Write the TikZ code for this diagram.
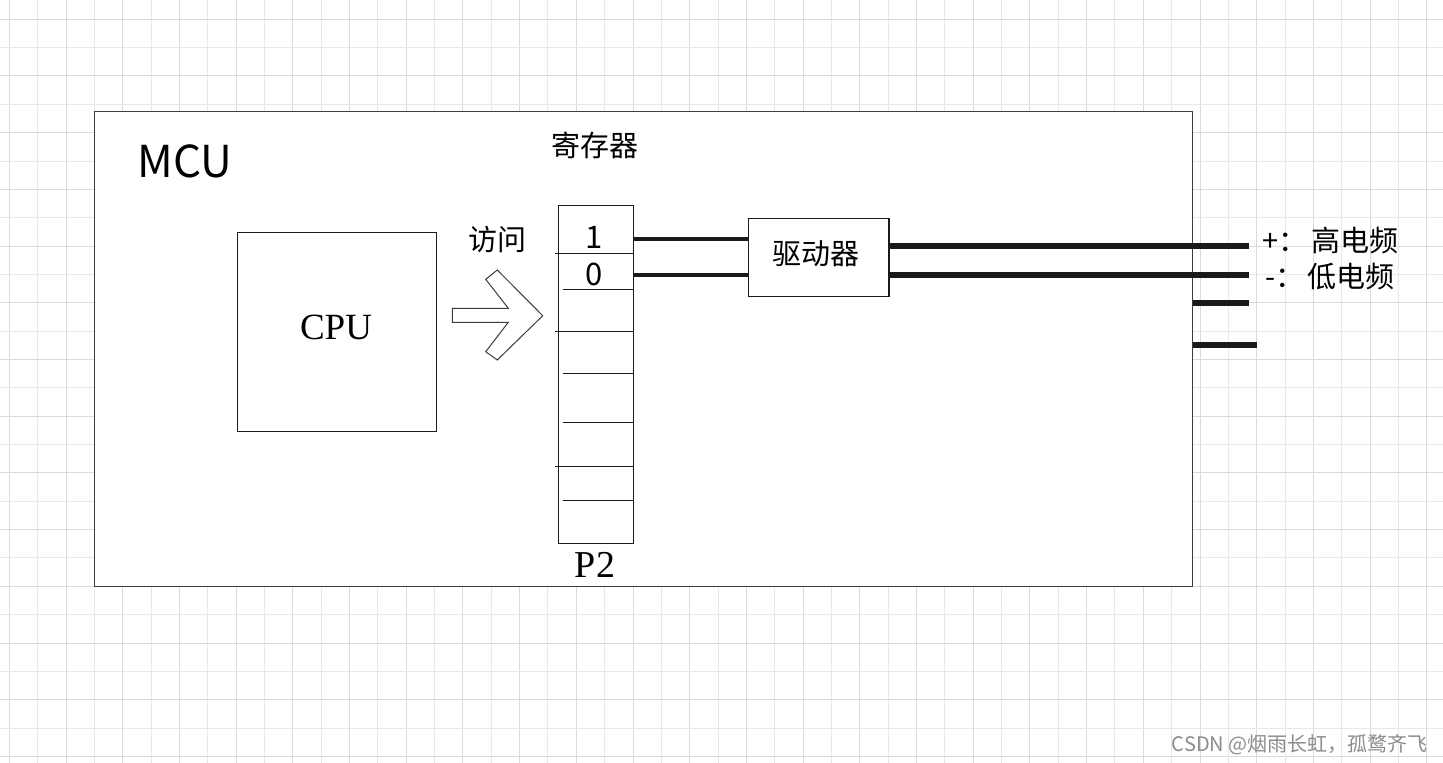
\documentclass[tikz,border=0pt]{standalone}
\usepackage{fontspec}
\setmainfont{Liberation Serif}
\newfontfamily\cjk{Noto Sans CJK SC}
\definecolor{gridminor}{HTML}{E8E8E8}
\definecolor{gridmajor}{HTML}{DADADA}
\definecolor{ink}{HTML}{1A1A1A}
\definecolor{wm}{HTML}{8C8C8C}
\tikzset{
  box/.style={draw=ink, line width=0.6pt, fill=white, inner sep=0pt},
  cjktext/.style={font=\cjk\fontsize{14.5pt}{17pt}\selectfont, inner sep=0pt},
  serif/.style={font=\fontsize{18.5pt}{21pt}\selectfont, inner sep=0pt},
  bus/.style={draw=ink, line width=2pt},
  outbus/.style={draw=ink, line width=3pt},
  rowline/.style={draw=ink, line width=0.5pt},
  digit/.style={font=\cjk\fontsize{15.5pt}{18pt}\selectfont, inner sep=0pt, anchor=base},
}
\begin{document}
\begin{tikzpicture}[x=0.5pt,y=-0.5pt]
\useasboundingbox (0,0) rectangle (1443,763);
\fill[white] (0,0) rectangle (1443,763);
% grid
\foreach \k in {0,...,50} {
  \pgfmathsetmacro\xx{9.3+28.35*\k}
  \pgfmathtruncatemacro\ev{mod(\k,2)}
  \ifnum\ev=0 \draw[gridmajor,line width=0.5pt] (\xx,0) -- (\xx,763);
  \else \draw[gridminor,line width=0.5pt] (\xx,0) -- (\xx,763); \fi
}
\foreach \k in {0,...,26} {
  \pgfmathsetmacro\yy{19.3+28.35*\k}
  \pgfmathtruncatemacro\ev{mod(\k,2)}
  \ifnum\ev=0 \draw[gridmajor,line width=0.5pt] (0,\yy) -- (1443,\yy);
  \else \draw[gridminor,line width=0.5pt] (0,\yy) -- (1443,\yy); \fi
}
% MCU box
\node[box, draw=ink!85, line width=0.7pt, minimum width=549pt, minimum height=237.5pt, anchor=north west] (mcu) at (94,111) {};
\node[font=\cjk\fontsize{22pt}{26pt}\selectfont, inner sep=0pt, anchor=base west] (mcul) at (137,178) {MCU};
% CPU
\node[box, minimum width=99.5pt, minimum height=99.5pt, anchor=north west] (cpu) at (237,232) {};
\node[serif, anchor=base] (cpul) at (336,340) {CPU};
% register
\node[box, minimum width=37.5pt, minimum height=169pt, anchor=north west] (reg) at (558,205) {};
\node[cjktext] (regl) at (595,145) {寄存器};
\node[serif, font=\fontsize{19pt}{22pt}\selectfont, anchor=base] (p2) at (595,577) {P2};
\draw[rowline] (555,254) -- (reg.east |- 0,254);
\draw[rowline] (562.5,290) -- (reg.east |- 0,290);
\draw[rowline] (555,332) -- (reg.east |- 0,332);
\draw[rowline] (562.5,374) -- (reg.east |- 0,374);
\draw[rowline] (562.5,423) -- (reg.east |- 0,423);
\draw[rowline] (555,467) -- (reg.east |- 0,467);
\draw[rowline] (562.5,501) -- (reg.east |- 0,501);
\node[digit] (b1) at (594,248.5) {1};
\node[digit] (b0) at (594,286) {0};
% access arrow
\node[cjktext] (acc) at (497.5,240) {访问};
\draw[draw=ink!85, line width=0.5pt, fill=white, line join=miter]
  (452.3,308.3) -- (508.3,308.3) -- (485.7,279.3) -- (497.3,270) -- (542.7,315.7)
  -- (497.3,360) -- (485.7,351.7) -- (508.3,322.3) -- (452.3,322.3) -- cycle;
% driver
\node[box, minimum width=70.3pt, minimum height=38.8pt, anchor=north west] (drv) at (747.7,218.3) {};
\node[cjktext] (drvl) at (816,254) {驱动器};
% buses register -> driver
\coordinate (r1) at (reg.east |- 0,239.3);
\coordinate (r0) at (reg.east |- 0,275.3);
\draw[bus] (r1) -- (drv.west |- r1);
\draw[bus] (r0) -- (drv.west |- r0);
% outputs
\coordinate (o1) at (1249.3,245.7);
\coordinate (o2) at (1249.3,275);
\coordinate (o3) at (1249.3,303.3);
\coordinate (o4) at (1257.3,345.3);
\draw[outbus] (drv.east |- o1) -- (o1);
\draw[outbus] (drv.east |- o2) -- (o2);
\draw[outbus] (mcu.east |- o3) -- (o3);
\draw[outbus] (mcu.east |- o4) -- (o4);
\node[cjktext, anchor=west] (hi) at (1262,240) {+：\hspace{2pt}高电频};
\node[cjktext, anchor=west] (lo) at (1265,276.5) {-：\hspace{1.5pt}低电频};
% watermark
\node[font=\cjk\fontsize{10pt}{12pt}\selectfont, text=wm, inner sep=0pt, anchor=east] (wmk) at (1428,745) {CSDN @烟雨长虹，孤鹜齐飞};
\end{tikzpicture}
\end{document}
